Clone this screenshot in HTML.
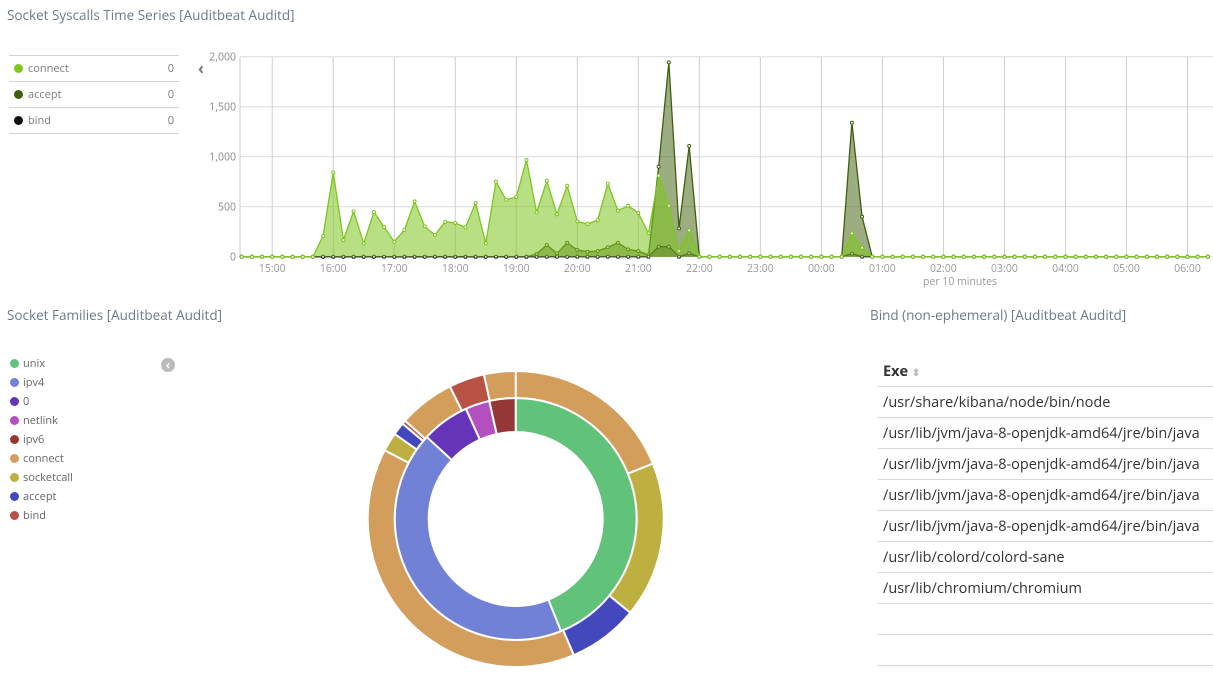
<!DOCTYPE html>
<html><head><meta charset="utf-8">
<style>
body{margin:0;width:1213px;height:675px;background:#fff;font-family:"Open Sans","Liberation Sans",sans-serif;overflow:hidden;position:relative}
.title{position:absolute;font-size:13.5px;color:#6d7a86}
.leg{position:absolute;left:9px;width:170px;font-size:11px;color:#7b7b7b}
.leg .row{height:25px;border-top:1px solid #d4d4d4;position:relative;line-height:25px}
.leg .dot{display:inline-block;width:9px;height:9px;border-radius:50%;margin:0 5px 0 5px;vertical-align:-1px}
.leg .v{position:absolute;right:5px;top:0}
.pl{position:absolute;left:10px;font-size:11px;color:#666;line-height:19px}
.pl .dot{display:inline-block;width:9px;height:9px;border-radius:50%;margin-right:4px;vertical-align:-1px}
table{position:absolute;left:878px;top:356px;width:335px;border-collapse:collapse;font-size:14.5px;color:#333}
td,th{height:30px;border-bottom:1px solid #d9d9d9;text-align:left;padding:0 0 0 5px}
th{font-weight:bold}
</style></head><body>
<div class="title" style="left:7px;top:6px">Socket Syscalls Time Series [Auditbeat Auditd]</div>
<div class="leg" style="top:55px;border-bottom:1px solid #d4d4d4">
<div class="row"><span class="dot" style="background:#7ec51f"></span>connect<span class="v">0</span></div>
<div class="row"><span class="dot" style="background:#3f5f0f"></span>accept<span class="v">0</span></div>
<div class="row"><span class="dot" style="background:#111"></span>bind<span class="v">0</span></div>
</div>
<div style="position:absolute;left:198px;top:57px;font-size:16px;color:#777;font-weight:bold">‹</div>
<svg id="ts" style="position:absolute;left:0;top:0" width="1213" height="300"></svg>

<div class="title" style="left:7px;top:306px">Socket Families [Auditbeat Auditd]</div>
<div id="pleg"></div>
<div style="position:absolute;left:161px;top:358px;width:14px;height:14px;border-radius:50%;background:#bbb;color:#fff;font-size:12px;line-height:13px;text-align:center;font-weight:bold">‹</div>
<svg id="pie" style="position:absolute;left:0;top:300px" width="860" height="375"></svg>

<div class="title" style="left:870px;top:306px">Bind (non-ephemeral) [Auditbeat Auditd]</div>
<table>
<tr><th>Exe <span style="color:#bbb;font-size:10px">⬍</span></th></tr>
<tr><td>/usr/share/kibana/node/bin/node</td></tr>
<tr><td>/usr/lib/jvm/java-8-openjdk-amd64/jre/bin/java</td></tr>
<tr><td>/usr/lib/jvm/java-8-openjdk-amd64/jre/bin/java</td></tr>
<tr><td>/usr/lib/jvm/java-8-openjdk-amd64/jre/bin/java</td></tr>
<tr><td>/usr/lib/jvm/java-8-openjdk-amd64/jre/bin/java</td></tr>
<tr><td>/usr/lib/colord/colord-sane</td></tr>
<tr><td>/usr/lib/chromium/chromium</td></tr>
<tr><td></td></tr><tr><td></td></tr>
</table>
<script>
const connectVals=[0,0,0,0,0,0,0,0,207,843,167,453,133,447,297,150,267,553,303,217,350,337,293,537,133,750,570,597,967,443,760,423,710,353,327,367,730,460,510,437,233,810,510,57,263,0,0,0,0,0,0,0,0,0,0,0,0,0,0,0,233,90,0,0,0,0,0,0,0,0,0,0,0,0,0,0,0,0,0,0,0,0,0,0,0,0,0,0,0,0,0,0,0,0,0,0];
const acceptVals=[0,0,0,0,0,0,0,0,0,0,0,0,0,0,0,0,0,0,0,0,0,0,0,0,0,0,0,0,0,27,117,33,140,67,50,57,93,140,73,57,17,900,1943,283,1107,0,0,0,0,0,0,0,0,0,0,0,0,0,0,0,1340,400,0,0,0,0,0,0,0,0,0,0,0,0,0,0,0,0,0,0,0,0,0,0,0,0,0,0,0,0,0,0,0,0,0,0];
const bindVals=[0,0,0,0,0,0,0,0,0,0,0,0,0,0,0,0,0,0,0,0,0,0,0,0,0,0,0,0,0,0,0,0,0,0,0,0,0,0,0,0,0,100,100,0,33,0,0,0,0,0,0,0,0,0,0,0,0,0,0,0,30,0,0,0,0,0,0,0,0,0,0,0,0,0,0,0,0,0,0,0,0,0,0,0,0,0,0,0,0,0,0,0,0,0,0,0];
const yTicks=[0,500,1000,1500,2000];
const xTickLabels=["15:00","16:00","17:00","18:00","19:00","20:00","21:00","22:00","23:00","00:00","01:00","02:00","03:00","04:00","05:00","06:00"];
const innerLabels=["unix","ipv4","0","netlink","ipv6"];
const innerVals=[158,154.7,23,11.7,12.6];
const innerColors=["#61c27a","#7181d6","#6634b6","#b44fbf","#963737"];
const outerLabels=["connect","socketcall","accept","connect","socketcall","accept","bind","connect","bind","connect"];
const outerVals=[68,61.3,27.6,140.8,7.4,5,1.5,22,14,12.4];
const colorMap={connect:"#d39e5c",socketcall:"#bdb040",accept:"#4348bc",bind:"#b85244"};
const legendLabels=["unix","ipv4","0","netlink","ipv6","connect","socketcall","accept","bind"];
const legendColors=["#61c27a","#7181d6","#6634b6","#b44fbf","#963737","#d39e5c","#bdb040","#4348bc","#b85244"];

const NS="http://www.w3.org/2000/svg";
function mk(p,t,a){const e=document.createElementNS(NS,t);for(const k in a)e.setAttribute(k,a[k]);p.appendChild(e);return e;}
const ts=document.getElementById('ts');
const X0=241.7,DX=10.17,Y0=256.7,YS=0.1,L=240,R=1213;
const xs=i=>X0+i*DX, ys=v=>Y0-v*YS;
yTicks.forEach(t=>{
  const g=mk(ts,'line',{x1:L,x2:R,y1:ys(t),y2:ys(t),stroke:'#dcdcdc','stroke-width':1});
  
  
  const tx=mk(ts,'text',{x:236,y:ys(t)+4,'text-anchor':'end','font-size':10.5,fill:'#888'});
  tx.textContent=t.toLocaleString('en-US');
  
  
});
mk(ts,'line',{x1:L,x2:L,y1:57,y2:257,stroke:'#ccc'});
xTickLabels.forEach((lab,k)=>{
  const x=xs(3+6*k);
  const g=mk(ts,'line',{x1:x,x2:x,y1:57,y2:257,stroke:'#cfcfcf'});
  
  
  const tx=mk(ts,'text',{x:x,y:272,'text-anchor':'middle','font-size':10.5,fill:'#999'});
  tx.textContent=lab;
  
  
});
const xt=mk(ts,'text',{x:960,y:285,'text-anchor':'middle','font-size':10.5,fill:'#999'});
xt.textContent='per 10 minutes';


function series(vals,line,fill,op,name){
  let d='M'+xs(0)+','+ys(0);
  vals.forEach((v,i)=>d+=' L'+xs(i)+','+ys(v));
  d+=' L'+xs(vals.length-1)+','+ys(0)+'Z';
  const a=mk(ts,'path',{d:d,fill:fill,'fill-opacity':op,stroke:'none'});
  
  
  let l='';vals.forEach((v,i)=>l+=(i?' L':'M')+xs(i)+','+ys(v));
  const p=mk(ts,'path',{d:l,fill:'none',stroke:line,'stroke-width':1.3});
  
  
  vals.forEach((v,i)=>{
    const c=mk(ts,'circle',{cx:xs(i),cy:ys(v),r:1.5,fill:'#fff',stroke:line,'stroke-width':1});
    
    
  });
}
series(acceptVals,'#3f5f0f','#4d6a1c',0.55,'accept');
series(bindVals,'#222','#111',0.35,'bind');
series(connectVals,'#7ec51f','#7ec51f',0.55,'connect');

const pl=document.getElementById('pleg');
legendLabels.forEach((lab,i)=>{
  const d=document.createElement('div');d.className='pl';d.style.top=(354+i*19)+'px';
  d.innerHTML='<span class="dot" style="background:'+legendColors[i]+'"></span>'+lab;
  
  
  document.body.appendChild(d);
});
const pie=document.getElementById('pie');
const CX=515.7,CY=219;
function arc(a0,a1,r0,r1){
  const tot=innerVals.reduce((s,v)=>s+v,0);
  const p=(a,r)=>[CX+r*Math.sin(a),CY-r*Math.cos(a)];
  const lg=(a1-a0)>Math.PI?1:0;
  const [x1,y1]=p(a0,r1),[x2,y2]=p(a1,r1),[x3,y3]=p(a1,r0),[x4,y4]=p(a0,r0);
  return `M${x1},${y1} A${r1},${r1} 0 ${lg} 1 ${x2},${y2} L${x3},${y3} A${r0},${r0} 0 ${lg} 0 ${x4},${y4}Z`;
}
function ring(vals,colors,labels,r0,r1,nm){
  const tot=vals.reduce((s,v)=>s+v,0);let a=0;
  vals.forEach((v,i)=>{
    const a0=a/tot*2*Math.PI;a+=v;const a1=a/tot*2*Math.PI;
    const s=mk(pie,'path',{d:arc(a0,a1,r0,r1),fill:colors[i],stroke:'#fff','stroke-width':2});
    
    
  });
}
ring(innerVals,innerColors,innerLabels,87,121,'inner');
ring(outerVals,outerLabels.map(l=>colorMap[l]),outerLabels,121,148,'outer');
</script>
</body></html>
